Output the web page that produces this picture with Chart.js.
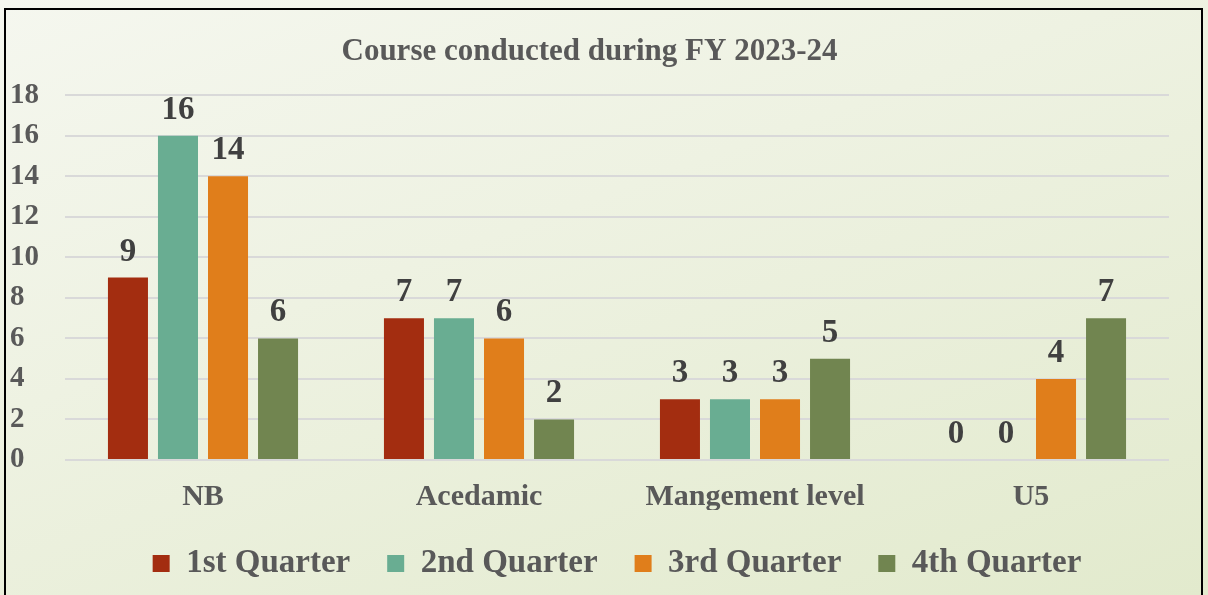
<!DOCTYPE html>
<html>
<head>
<meta charset="utf-8">
<script src="https://cdn.jsdelivr.net/npm/chart.js@4"></script>
<style>
  html, body { margin: 0; padding: 0; }
  body {
    width: 1208px; height: 595px; overflow: hidden; position: relative;
    background: linear-gradient(160deg, #f5f7ef 0%, #eef2e2 40%, #e2eacd 100%);
  }
  #frame {
    position: absolute; left: 4px; top: 8px; width: 1195px; height: 620px;
    border: 2px solid #000; box-sizing: content-box;
  }
  #wrap { position: absolute; left: 0; top: 0; width: 1208px; height: 595px; }
</style>
</head>
<body>
<div id="frame"></div>
<div id="wrap"><canvas id="c" width="1208" height="595"></canvas></div>
<script>
const titleText = "Course conducted during FY 2023-24";
const categories = ["NB", "Acedamic", "Mangement level", "U5"];
const seriesNames = ["1st Quarter", "2nd Quarter", "3rd Quarter", "4th Quarter"];
const q1 = [9, 7, 3, 0];
const q2 = [16, 7, 3, 0];
const q3 = [14, 6, 3, 4];
const q4 = [6, 2, 5, 7];
const yTicks = [0, 2, 4, 6, 8, 10, 12, 14, 16, 18];
const colors = ["#a32d10", "#69ad92", "#e07e1b", "#718550"];

const FONT = "'Liberation Serif', 'Times New Roman', serif";

const dataLabels = {
  id: "dataLabels",
  afterDatasetsDraw(chart) {
    const ctx = chart.ctx;
    ctx.save();
    ctx.font = "bold 33px " + FONT;
    ctx.fillStyle = "#404040";
    ctx.textAlign = "center";
    ctx.textBaseline = "alphabetic";
    chart.data.datasets.forEach((ds, i) => {
      const meta = chart.getDatasetMeta(i);
      meta.data.forEach((el, j) => {
        ctx.fillText(String(ds.data[j]), el.x, el.y - 17);
      });
    });
    ctx.restore();
  }
};

new Chart(document.getElementById("c"), {
  type: "bar",
  data: {
    labels: categories,
    datasets: [q1, q2, q3, q4].map((d, i) => ({
      label: seriesNames[i],
      data: d,
      backgroundColor: colors[i],
      borderWidth: 0,
      categoryPercentage: 0.725,
      barPercentage: 0.8
    }))
  },
  options: {
    responsive: false,
    animation: false,
    layout: { padding: { left: 10, right: 39, top: 0, bottom: 5 } },
    plugins: {
      title: {
        display: true,
        text: titleText,
        color: "#595959",
        font: { family: FONT, size: 31, weight: "bold" },
        padding: { top: 33, bottom: 25 }
      },
      legend: {
        position: "bottom",
        fullSize: false,
        labels: {
          color: "#595959",
          font: { family: FONT, size: 33, weight: "bold" },
          boxWidth: 17,
          boxHeight: 17,
          padding: 37
        }
      },
      tooltip: { enabled: false }
    },
    scales: {
      x: {
        grid: { display: false, drawTicks: false },
        border: { display: false },
        ticks: {
          color: "#595959",
          font: { family: FONT, size: 30, weight: "bold" },
          padding: 19
        },
        afterFit(scale) { scale.height = 50; }
      },
      y: {
        min: 0, max: 18,
        afterBuildTicks(scale) { scale.ticks = yTicks.map(v => ({ value: v })); },
        grid: { color: "#d9d9d9", lineWidth: 2, drawTicks: false },
        border: { display: false },
        ticks: {
          color: "#595959",
          font: { family: FONT, size: 29, weight: "bold" },
          crossAlign: "far",
          padding: 8
        },
        afterFit(scale) { scale.width = 55; }
      }
    }
  },
  plugins: [dataLabels]
});
</script>
</body>
</html>
